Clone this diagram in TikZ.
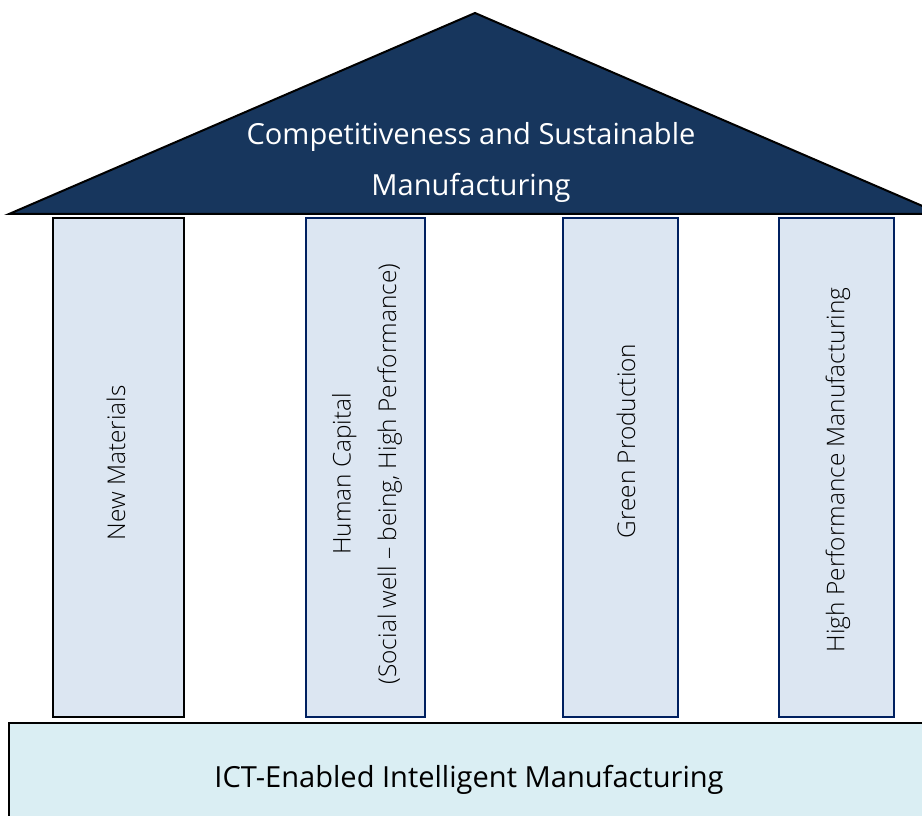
\documentclass[tikz,border=0pt]{standalone}
\usepackage{fontspec}
\setmainfont{Open Sans}
\newfontfamily\thinfont{Open Sans Light}
\definecolor{roofblue}{HTML}{17365D}
\definecolor{pillarfill}{HTML}{DCE6F2}
\definecolor{pillarline}{HTML}{002060}
\definecolor{basefill}{HTML}{DAEEF3}
\tikzset{
  pillar/.style={line width=1.5pt, draw=pillarline, fill=pillarfill},
  pillarlabel/.style={rotate=90, font=\thinfont\fontsize{18.3}{34}\selectfont, align=center},
  bigtext/.style={font=\fontsize{21.8}{26}\selectfont, anchor=base}
}
\begin{document}
\begin{tikzpicture}[x=.75pt,y=-.75pt]
  \useasboundingbox (0,0) rectangle (922,816);
  \clip (0,0) rectangle (922,816);
  % roof and base
  \draw[line width=1.5pt, fill=roofblue] (9,214) -- (475,13) -- (941,214) -- cycle;
  \draw[line width=1.5pt, fill=basefill] (9,723) rectangle (940,830);
  % the four pillars
  \draw[pillar, draw=black] (53,218) rectangle (184,717);
  \foreach \l/\r in {306/425, 563/678, 779/894} {
    \draw[pillar] (\l,218) rectangle (\r,717);
  }
  \node[bigtext, text=white] (roof1) at (471,145) {Competitiveness and Sustainable};
  \node[bigtext, text=white] (roof2) at (471,196) {Manufacturing};
  \node[bigtext] (ict) at (469,787) {ICT-Enabled Intelligent Manufacturing};
  \node[pillarlabel] (materials) at (116,463) {New Materials};
  \node[pillarlabel] (human) at (367,474) {Human Capital\\(Social well – being, High Performance)};
  \node[pillarlabel] (green) at (626,441) {Green Production};
  \node[pillarlabel] (performance) at (838,470) {High Performance Manufacturing};
\end{tikzpicture}
\end{document}
